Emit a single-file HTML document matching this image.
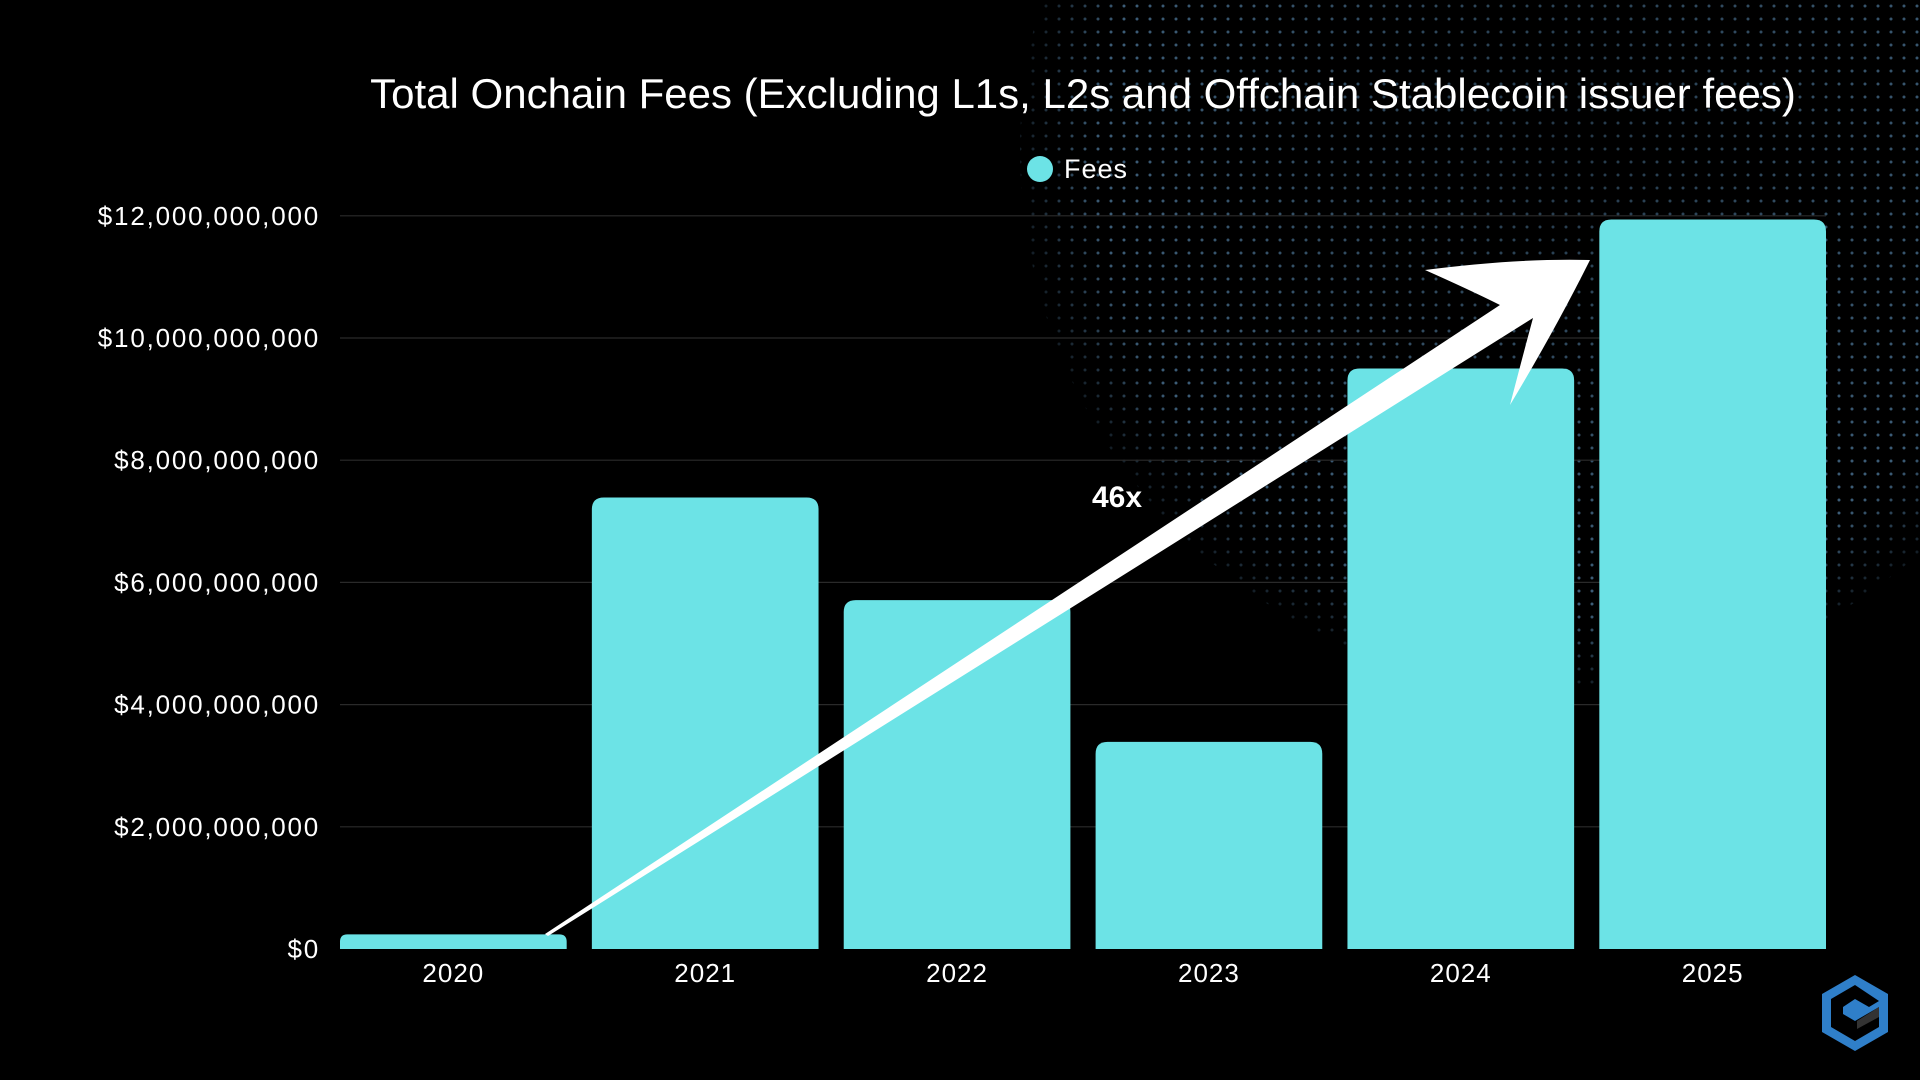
<!DOCTYPE html>
<html><head><meta charset="utf-8"><style>
html,body{margin:0;padding:0;background:#000;}
body{width:1920px;height:1080px;position:relative;overflow:hidden;font-family:"Liberation Sans",sans-serif;color:#fff;}
svg{position:absolute;left:0;top:0;}
</style></head><body>
<svg width="1920" height="1080" id="chart">
<defs>
<pattern id="dots" width="13" height="13" patternUnits="userSpaceOnUse"><circle cx="6" cy="6" r="1.5" fill="#5d8fb8"/></pattern>
<radialGradient id="fade" cx="1560" cy="150" r="540" gradientUnits="userSpaceOnUse">
<stop offset="0" stop-color="#fff" stop-opacity="0.4"/><stop offset="0.85" stop-color="#fff" stop-opacity="0.65"/><stop offset="1" stop-color="#fff" stop-opacity="0.2"/></radialGradient>
<mask id="m"><circle cx="1560" cy="150" r="540" fill="url(#fade)"/></mask>
</defs>
<rect width="1920" height="1080" fill="#000"/>
<rect x="900" y="0" width="1020" height="720" fill="url(#dots)" mask="url(#m)"/>
<g id="grid"></g><g id="bars"></g><g id="labels"></g>
</svg>
<script>
const categories=["2020","2021","2022","2023","2024","2025"];
const fees=[0.24e9,7.39e9,5.71e9,3.39e9,9.5e9,11.94e9];
const yTicks=[0,2e9,4e9,6e9,8e9,10e9,12e9];
const yTickLabels=["$0","$2,000,000,000","$4,000,000,000","$6,000,000,000","$8,000,000,000","$10,000,000,000","$12,000,000,000"];
const NS="http://www.w3.org/2000/svg";
const x0=340,x1=1826,y0=949,ppu=122.2/2e9;
const band=(x1-x0)/(categories.length-1+0.9),bw=band*0.9;
const y=v=>y0-v*ppu;
const xb=i=>x0+i*band;
function mk(t,a,p){const e=document.createElementNS(NS,t);for(const k in a)e.setAttribute(k,a[k]);(p||svg).appendChild(e);return e;}
const svg=document.getElementById('chart');
const grid=document.getElementById('grid'),bars=document.getElementById('bars'),labels=document.getElementById('labels');
yTicks.forEach((v,i)=>{
 if(v>0){const l=mk('line',{x1:x0,x2:x1,y1:y(v),y2:y(v),stroke:'#2a2a2a','stroke-width':1.2},grid);
 
 }
 const t=mk('text',{x:320,y:y(v)+9,'text-anchor':'end','font-size':26,'letter-spacing':1.8,fill:'#fff'},labels);
 t.textContent=yTickLabels[i];
 
 
});
fees.forEach((v,i)=>{
 const top=y(v),h=y0-top,r=Math.min(12,h/2),x=xb(i);
 const p=mk('path',{d:`M${x},${y0}V${top+r}Q${x},${top} ${x+r},${top}H${x+bw-r}Q${x+bw},${top} ${x+bw},${top+r}V${y0}Z`,fill:'#6ce3e6'},bars);
 
 
 const t=mk('text',{x:x+bw/2,y:982,'text-anchor':'middle','font-size':26,'letter-spacing':1,fill:'#fff'},labels);
 t.textContent=categories[i];
 
 
});
const title=mk('text',{x:1083,y:108,'text-anchor':'middle','font-size':42,fill:'#fff'});
title.textContent="Total Onchain Fees (Excluding L1s, L2s and Offchain Stablecoin issuer fees)";


const ld=mk('circle',{cx:1040,cy:169,r:13,fill:'#6ce3e6'});


const lt=mk('text',{x:1064,y:178,'font-size':27,'letter-spacing':1,fill:'#fff'});
lt.textContent="Fees";


const ar=mk('path',{d:"M545,934 L1500,305 Q1470,290 1425,270 Q1520,258 1590,260 Q1555,330 1510,405 Q1523,355 1533,318 L548,936 Z",fill:'#fff'});


const at=mk('text',{x:1117,y:507,'text-anchor':'middle','font-size':30,'font-weight':'bold',fill:'#fff'});
at.textContent="46x";


const logo=mk('g',{transform:'translate(1855,1013)'});


mk('path',{d:"M0,-38 L33,-19 L33,19 L0,38 L-33,19 L-33,-19 Z M0,-28 L-24,-14 L-24,14 L0,28 L24,14 L24,-6 L0,8 L-12,1 L-12,-6 L0,-14 L14,-6 L24,-12 Z",fill:'#2f7fc9','fill-rule':'evenodd'},logo);
mk('path',{d:"M2,8 L24,-6 L24,4 L2,16 Z",fill:'#333'},logo);
</script>
</body></html>
